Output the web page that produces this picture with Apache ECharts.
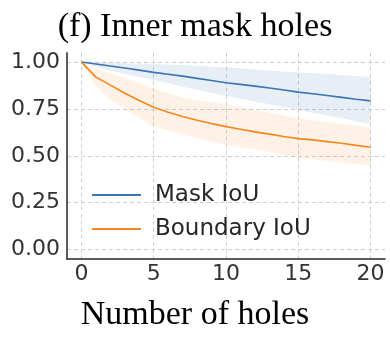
<!DOCTYPE html>
<html>
<head>
<meta charset="utf-8">
<script src="https://cdn.jsdelivr.net/npm/echarts@6/dist/echarts.min.js"></script>
<style>html,body{margin:0;padding:0;background:#fff;}#c{width:390px;height:338px;}</style>
</head>
<body>
<div id="c"></div>
<script>
const holes = [0,1,2,3,4,5,6,7,8,9,10,11,12,13,14,15,16,17,18,19,20];
const maskIoU = [1.0,0.99,0.979,0.968,0.957,0.945,0.935,0.925,0.913,0.902,0.89,0.881,0.872,0.862,0.851,0.84,0.831,0.822,0.812,0.802,0.793];
const maskLow = [1.0,0.975,0.955,0.937,0.92,0.904,0.887,0.869,0.853,0.836,0.819,0.805,0.79,0.775,0.76,0.745,0.73,0.715,0.7,0.685,0.67];
const maskHigh = [1.0,0.998,0.996,0.994,0.992,0.99,0.987,0.984,0.98,0.976,0.972,0.967,0.961,0.955,0.95,0.945,0.941,0.936,0.931,0.926,0.922];
const boundaryIoU = [1.0,0.92,0.877,0.834,0.795,0.759,0.733,0.71,0.69,0.672,0.656,0.642,0.628,0.616,0.603,0.592,0.585,0.576,0.567,0.556,0.546];
const boundaryLow = [1.0,0.87,0.8,0.75,0.70,0.656,0.635,0.615,0.595,0.576,0.558,0.546,0.534,0.522,0.505,0.49,0.482,0.472,0.463,0.455,0.447];
const boundaryHigh = [1.0,0.965,0.94,0.915,0.888,0.86,0.834,0.81,0.797,0.786,0.775,0.76,0.745,0.73,0.715,0.70,0.69,0.68,0.67,0.66,0.65];
const xTicks = [0,5,10,15,20];
const yTicks = [0,0.25,0.5,0.75,1.0];
const seriesNames = ['Mask IoU','Boundary IoU'];
const titleText = '(f) Inner mask holes';
const xLabel = 'Number of holes';

const blue = '#3a74b2';
const orange = '#f5861f';
const pts = (ys) => holes.map((x,i)=>[x, ys[i]]);

// band drawn as a polygon through the axis scales (api.coord)
const band = (lo, hi, fill) => ({
  type:'custom', silent:true, z:1,
  data: holes.map((x,i)=>[x, lo[i], hi[i]]),
  encode:{x:0, y:[1,2]},
  renderItem:(params, api) => {
    if (params.dataIndex !== 0) return;
    const upper = holes.map((x,i)=>api.coord([x, hi[i]]));
    const lower = holes.map((x,i)=>api.coord([x, lo[i]])).reverse();
    return {type:'polygon', shape:{points:upper.concat(lower)}, style:{fill, stroke:null}};
  }
});

const chart = echarts.init(document.getElementById('c'), null, {renderer:'canvas'});
chart.setOption({
  animation:false,
  backgroundColor:'#fff',
  title:[
    {text:titleText, left:'center', top:5, textStyle:{fontFamily:'Liberation Serif', fontSize:34, fontWeight:'normal', color:'#000'}},
    {text:xLabel, left:'center', top:293, textStyle:{fontFamily:'Liberation Serif', fontSize:34, fontWeight:'normal', color:'#000'}}
  ],
  grid:{left:67, right:5, top:52.7, bottom:79, containLabel:false},
  legend:{
    data:seriesNames, orient:'vertical', left:87, top:177, icon:'rect', itemWidth:49, itemHeight:2, itemGap:8,
    textStyle:{fontFamily:'DejaVu Sans', fontSize:23, color:'#262626', lineHeight:26, padding:[0,0,0,9]}
  },
  xAxis:{
    type:'value', min:-1, max:21,
    axisLine:{show:true, onZero:false, lineStyle:{color:'#262626', width:1.5}},
    axisTick:{show:false, customValues:xTicks},
    axisLabel:{customValues:xTicks, fontFamily:'DejaVu Sans', fontSize:22, color:'#333', margin:4},
    splitLine:{show:true, lineStyle:{color:'#cfcfcf', type:[4,3], width:1}}
  },
  yAxis:{
    type:'value', min:-0.05, max:1.05,
    axisLine:{show:true, onZero:false, lineStyle:{color:'#262626', width:1.5}},
    axisTick:{show:false, customValues:yTicks},
    axisLabel:{customValues:yTicks, fontFamily:'DejaVu Sans', fontSize:22, color:'#333', margin:7, formatter:(v)=>v.toFixed(2)},
    splitLine:{show:true, lineStyle:{color:'#cfcfcf', type:[4,3], width:1}}
  },
  series:[
    band(maskLow, maskHigh, 'rgba(58,116,178,0.12)'),
    band(boundaryLow, boundaryHigh, 'rgba(245,134,31,0.11)'),
    {name:seriesNames[0], type:'line', data:pts(maskIoU), symbol:'none', color:blue, lineStyle:{color:blue, width:1.6}, z:3},
    {name:seriesNames[1], type:'line', data:pts(boundaryIoU), symbol:'none', color:orange, lineStyle:{color:orange, width:1.6}, z:3}
  ]
});
</script>
</body>
</html>
